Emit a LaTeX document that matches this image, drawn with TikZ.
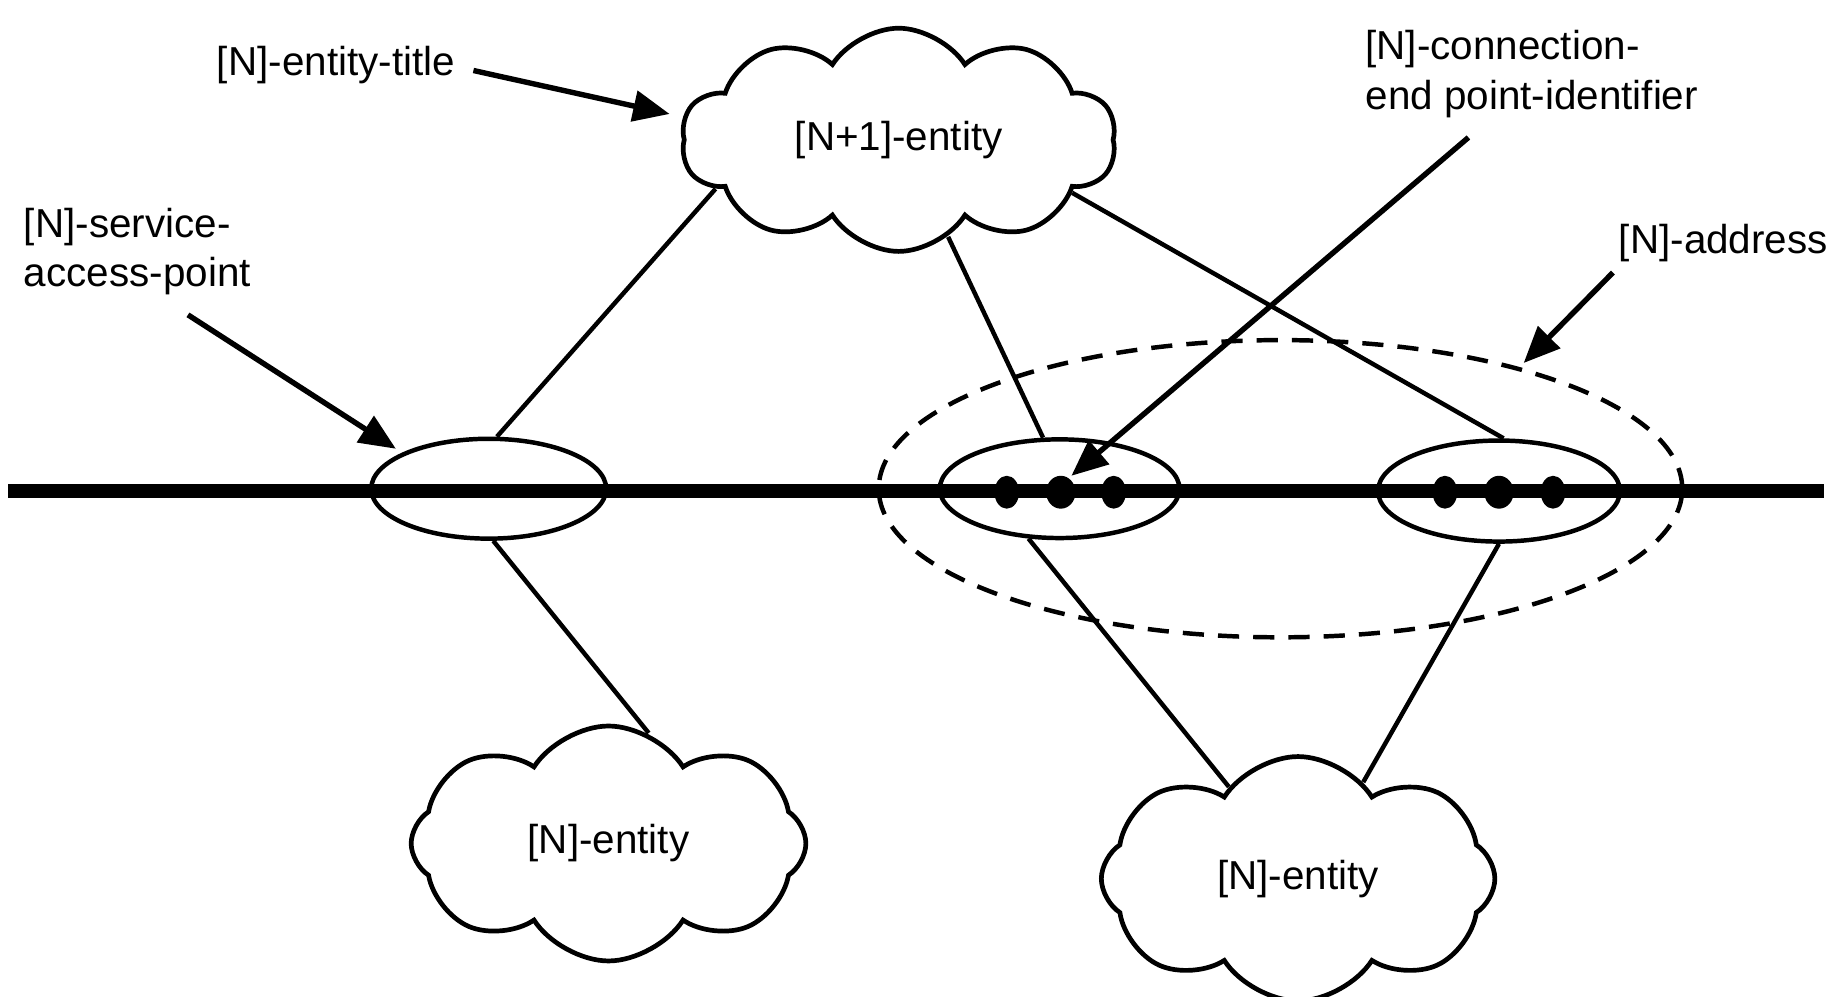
\documentclass[tikz,border=0pt]{standalone}
\usepackage{fontspec}
\setmainfont{Liberation Sans}
\usetikzlibrary{shapes.geometric,shapes.symbols,arrows.meta}
\begin{document}
\begin{tikzpicture}[x=0.5pt,y=-0.5pt,
  lbl/.style={font=\fontsize{17.2pt}{21pt}\selectfont, inner sep=0pt},
  cloudnode/.style={cloud, cloud puff arc=115, draw, line width=2pt, fill=white,
     font=\fontsize{17.2pt}{21pt}\selectfont, inner sep=0pt},
  sapnode/.style={ellipse, draw, line width=1.9pt, inner sep=0pt},
  dotnode/.style={ellipse, fill=black, inner sep=0pt, minimum height=14pt},
  conn/.style={line width=1.9pt},
  pointer/.style={line width=2.3pt, -{Triangle[length=15.5pt,width=13pt]}},
  addr/.style={ellipse, draw, line width=1.9pt, dash pattern=on 9pt off 6pt, inner sep=0pt},
]
\useasboundingbox (0,0) rectangle (1568,848);

% clouds
\node[cloudnode, cloud puffs=10, aspect=1.72, minimum width=185pt, minimum height=95pt] (top) at (765,119) {[N+1]-entity};
\node[cloudnode, cloud puffs=8, aspect=1.7, minimum width=168pt, minimum height=100pt] (bl) at (518,718) {[N]-entity};
\node[cloudnode, cloud puffs=8, aspect=1.6, minimum width=167.5pt, minimum height=104pt] (br) at (1105,748) {[N]-entity};

% service access points
\node[sapnode, minimum width=100pt, minimum height=42.5pt] (sap) at (416,416) {};
\node[sapnode, minimum width=102pt, minimum height=42pt] (sapm) at (902,416) {};
\node[sapnode, minimum width=103pt, minimum height=43pt] (sapr) at (1276,418) {};

% address
\node[addr, minimum width=342pt, minimum height=126.5pt] (address) at (1090,416) {};

% thick line
\coordinate (hl) at (7,418);
\coordinate (hr) at (1553,418);
\draw[line width=6pt] (hl) -- (hr);

% connection end points
\node[dotnode, minimum width=10.5pt] (d1) at (857,419) {};
\node[dotnode, minimum width=12.5pt] (d2) at (903,419) {};
\node[dotnode, minimum width=10.5pt] (d3) at (948,419) {};
\node[dotnode, minimum width=10.5pt] (d4) at (1230,419) {};
\node[dotnode, minimum width=12.5pt] (d5) at (1276,419) {};
\node[dotnode, minimum width=10.5pt] (d6) at (1322,419) {};

% connectors
\draw[conn] (top.195) -- (sap.81);
\draw[conn] (top.297) -- (sapm.108);
\draw[conn] (top.343) -- (sapr.85);
\draw[conn] (sap.275) -- (bl.70);
\draw[conn] (sapm.238) -- (br.127);
\draw[conn] (sapr.270) -- (br.56);

% labels
\node[lbl] (ttl) at (286,55) {[N]-entity-title};
\node[lbl, align=left, anchor=west] (sapl) at (20,214) {[N]-service-\\access-point};
\node[lbl, align=left, anchor=west] (cepl) at (1162,63) {[N]-connection-\\end point-identifier};
\node[lbl] (addrl) at (1467,207) {[N]-address};

% pointers
\coordinate (t1) at (403,60);  \coordinate (h1) at (570,97);
\coordinate (t2) at (160,268); \coordinate (h2) at (337,382);
\coordinate (t3) at (1250,117); \coordinate (h3) at (912,405);
\coordinate (t4) at (1373,232); \coordinate (h4) at (1297,309);
\draw[pointer] (t1) -- (h1);
\draw[pointer] (t2) -- (h2);
\draw[pointer] (t3) -- (h3);
\draw[pointer] (t4) -- (h4);
\end{tikzpicture}
\end{document}
